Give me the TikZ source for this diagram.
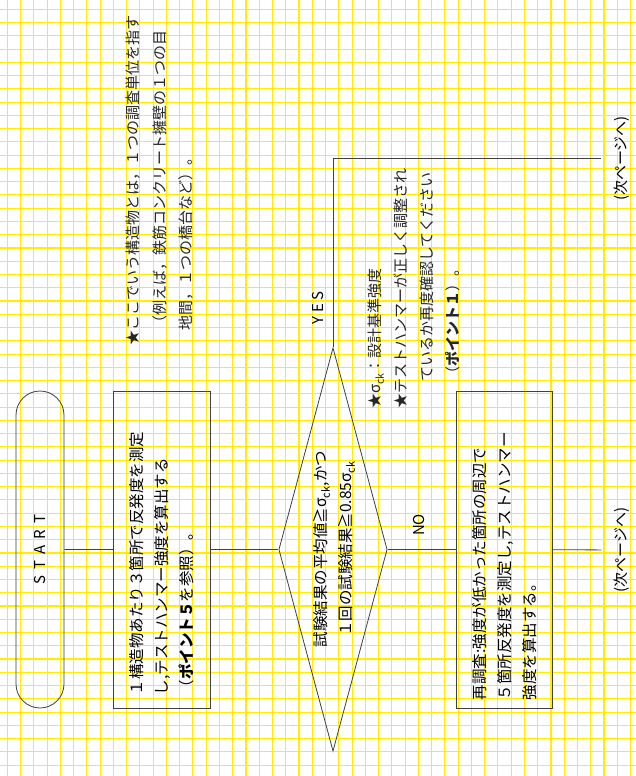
\documentclass[tikz,border=0pt]{standalone}
\usepackage{fontspec}
\setmainfont{Noto Sans CJK JP}
\usepackage{xcolor}
\usetikzlibrary{shapes.geometric,shapes.misc}
\definecolor{gridyellow}{RGB}{255,238,0}

\begin{document}
\begin{tikzpicture}[x=1pt,y=-1pt,
  gridline/.style={gridyellow, line width=1.1pt},
  flowline/.style={draw=black!75, line width=0.8pt},
  terminal/.style={rounded rectangle, draw=black!75, line width=0.8pt, rotate=90, minimum width=317pt, minimum height=48pt, inner sep=0pt, font=\fontsize{15}{18}\selectfont},
  procbox/.style={rectangle, draw=black!75, line width=0.8pt, rotate=90, minimum width=317pt, minimum height=97pt, inner sep=0pt, align=left, font=\fontsize{15.5}{25}\selectfont},
  decision/.style={diamond, draw=black!75, line width=0.8pt, minimum width=108.4pt, minimum height=403.4pt, inner sep=0pt},
  flowtext/.style={rotate=90, align=center, inner sep=0pt, font=\fontsize{15.5}{25}\selectfont},
  note/.style={rotate=90, align=left, inner sep=0pt, anchor=north west, text=black!85, font=\fontsize{15}{26.5}\selectfont},
  branch/.style={rotate=90, inner sep=0pt, font=\fontsize{15}{18}\selectfont},
  nextpage/.style={rotate=90, inner sep=0pt, outer sep=13pt, font=\fontsize{15}{18}\selectfont}]
  \useasboundingbox (0,0) rectangle (636,776);
  \fill[white] (0,0) rectangle (636,776);
  % grid paper
  \foreach \i in {0,...,47}
    \draw[gridline] ({7.3+13.26*\i},0) -- ({7.3+13.26*\i},776);
  \foreach \j in {0,...,57}
    \draw[gridline] (0,{9.3+13.26*\j}) -- (636,{9.3+13.26*\j});

  % flow
  \node[terminal] (start) at (40,549.5) {S\hspace{6pt}T\hspace{6pt}A\hspace{6pt}R\hspace{6pt}T};
  \node[procbox, text width=291pt] (measure) at (162,549.5)
    {１構造物あたり３箇所で反発度を測定\\し,テストハンマー強度を算出する\\（\textbf{ポイント５}を参照）。};
  \node[decision] (check) at (333,549.5) {};
  \node[flowtext] (checktext) at (334,549)
    {試験結果の平均値≧σ\textsubscript{ck},かつ\\１回の試験結果≧0.85σ\textsubscript{ck}};
  \node[procbox, minimum height=96.7pt, text width=301pt] (recheck) at (504.4,549.5)
    {再調査:強度が低かった箇所の周辺で\\５箇所反発度を測定し,テストハンマー\\強度を算出する。};
  \node[nextpage] (nextA) at (622,158.5) {(次ページへ)};
  \node[nextpage] (nextB) at (622,550) {(次ページへ)};

  % branch labels
  \node[branch] (yes) at (317.5,308) {Y\hspace{4pt}E\hspace{4pt}S};
  \node[branch] (no) at (418.5,525) {NO};

  % notes
  \node[note] (noteA) at (126,346)
    {★ここでいう構造物とは，１つの調査単位を指す\\\hspace{1em}（例えば，鉄筋コンクリート擁壁の１つの目\\\hspace{1em}地間，１つの橋台など）。};
  \node[note, font=\fontsize{15}{26}\selectfont] (noteB) at (367.5,409)
    {★σ\textsubscript{ck}：設計基準強度\\★テストハンマーが正しく調整され\\\hspace{1.8em}ているか再度確認してください\\\hspace{1.8em}（\textbf{ポイント１}）。};

  % connectors
  \draw[flowline] (start) -- (measure);
  \draw[flowline] (measure) -- (check);
  \draw[flowline] (check) -- (recheck);
  \draw[flowline] (recheck) -- (nextB);
  \draw[flowline] (check.north) |- (nextA);
\end{tikzpicture}
\end{document}
